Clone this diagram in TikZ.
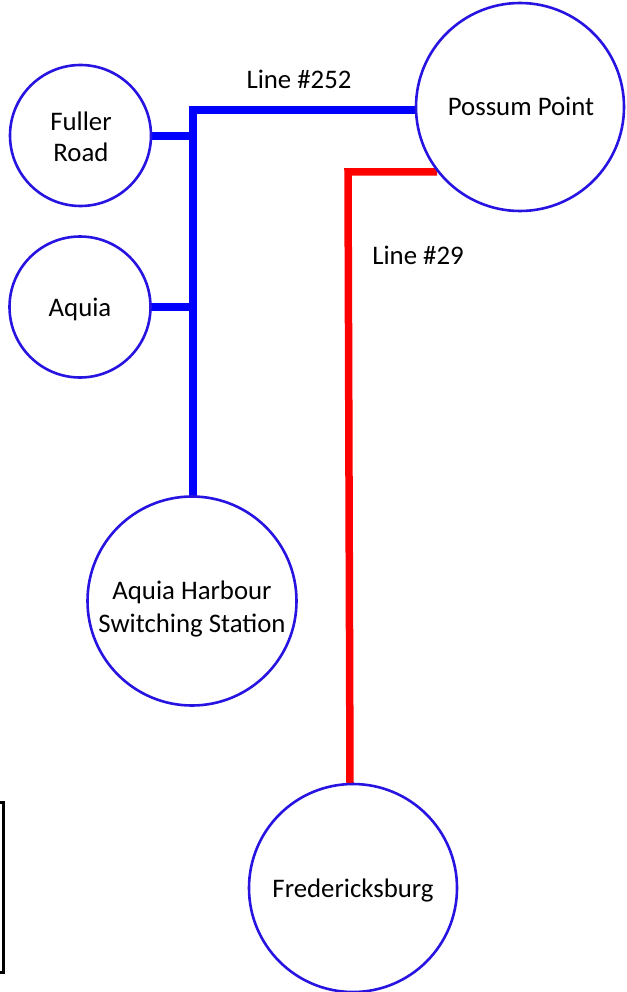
\documentclass[tikz,border=0pt]{standalone}
\usepackage{fontspec}
\setmainfont{Carlito}
\definecolor{ringblue}{RGB}{40,20,225}
\definecolor{lineblue}{RGB}{0,0,255}
\definecolor{linered}{RGB}{255,0,0}
\begin{document}
\begin{tikzpicture}[x=1pt,y=-1pt,
  station/.style={circle,draw=ringblue,line width=2.6pt,fill=white,inner sep=0pt,minimum size=#1},
  blueline/.style={draw=lineblue,line width=7.5pt},
  redline/.style={draw=linered,line width=7.5pt},
  lbl/.style={font=\fontsize{26.8}{31}\selectfont,inner sep=0pt,anchor=base}]
\useasboundingbox (0,0) rectangle (626,992);
% black box edge at left
\draw[line width=3pt] (-20,802) rectangle (3,972);
% coordinates
\coordinate (bt) at (193,110);
\coordinate (b1) at (193,136);
\coordinate (b2) at (193,307);
\coordinate (rt) at (348,172);
% lines
\draw[blueline] (416,110) -- (bt) -- (193,498);
\draw[blueline] (151,136) -- (b1);
\draw[blueline] (151,307) -- (b2);
\draw[redline] (437,172) -- (rt) -- (350,784);
% stations
\node[station=208pt] (pp) at (520,107) {};
\node[station=141pt] (fr) at (80.5,135.5) {};
\node[station=141pt] (aq) at (80,307) {};
\node[station=209pt] (ah) at (192,601) {};
\node[station=208pt] (fb) at (353,888) {};
% station names
\node[lbl] (tpp) at (521,116) {Possum Point};
\node[lbl] (tfr1) at (81,131) {Fuller};
\node[lbl] (tfr2) at (81,162) {Road};
\node[lbl] (taq) at (80,316) {Aquia};
\node[lbl] (tah1) at (192,599) {Aquia Harbour};
\node[lbl] (tah2) at (192,632) {Switching Station};
\node[lbl] (tfb) at (353,897) {Fredericksburg};
% line labels
\node[lbl] (l252) at (299,89) {Line \#252};
\node[lbl] (l29) at (418,264) {Line \#29};
\end{tikzpicture}
\end{document}
